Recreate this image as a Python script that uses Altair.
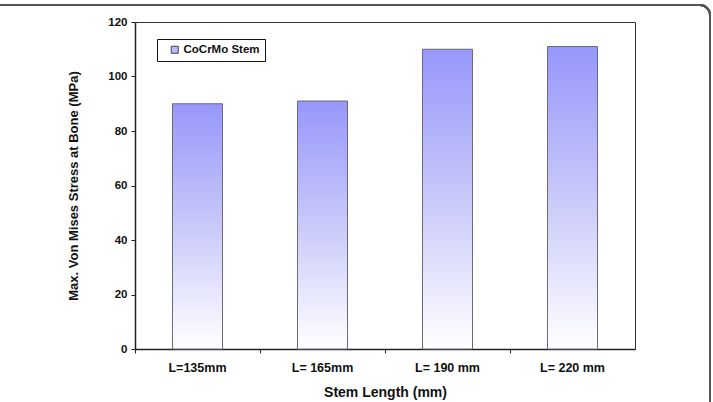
import altair as alt
import pandas as pd

# Stem lengths and the peak von Mises stress found in the bone
stem_lengths = ["L=135mm", "L= 165mm", "L= 190 mm", "L= 220 mm"]
max_stress = [90, 91, 110, 111]
series_name = ["CoCrMo Stem"] * 4

df = pd.DataFrame({"length": stem_lengths, "stress": max_stress, "series": series_name})

BOLD = "Liberation Sans"
NARROW = "Liberation Sans Narrow, Arial Narrow, Liberation Sans"

bar_fill = alt.Gradient(
    gradient="linear",
    stops=[
        alt.GradientStop(color="#9797fb", offset=0),
        alt.GradientStop(color="#c9c9fa", offset=0.5),
        alt.GradientStop(color="#ffffff", offset=1),
    ],
    x1=0, x2=0, y1=0, y2=1,
)

x_enc = alt.X(
    "length:N",
    sort=stem_lengths,
    scale=alt.Scale(paddingInner=0, paddingOuter=0),
    axis=alt.Axis(
        title="Stem Length (mm)",
        labelAngle=0,
        bandPosition=0,
        labelFont=BOLD, labelFontSize=12.5, labelFontWeight="bold", labelColor="#111",
        labelPadding=8,
        titleFont=BOLD, titleFontSize=14, titleFontWeight="bold", titleColor="#111",
        titlePadding=12,
        domainColor="#222", domainWidth=1.5,
        tickColor="#222", tickSize=4,
        grid=False,
    ),
)

y_enc = alt.Y(
    "stress:Q",
    scale=alt.Scale(domain=[0, 120]),
    axis=alt.Axis(
        title="Max. Von Mises Stress at Bone (MPa)",
        values=[0, 20, 40, 60, 80, 100, 120],
        labelFont=NARROW, labelFontSize=11.5, labelFontWeight="bold", labelColor="#111",
        labelPadding=4,
        titleFont=BOLD, titleFontSize=13, titleFontWeight="bold", titleColor="#111",
        titlePadding=27,
        domainColor="#222", domainWidth=1.5,
        tickColor="#222", tickSize=4,
        grid=False,
    ),
)

bars = alt.Chart(df).mark_bar(
    fill=bar_fill,
    stroke="#6a6a7a",
    strokeWidth=1,
    width=alt.RelativeBandSize(0.4),
).encode(x=x_enc, y=y_enc)

# invisible layer that supplies the series legend
legend_layer = alt.Chart(df).mark_square(opacity=0, size=49, filled=True).encode(
    x=alt.X("length:N", sort=stem_lengths),
    y="stress:Q",
    color=alt.Color(
        "series:N",
        scale=alt.Scale(range=["#b9b9fb"]),
        legend=alt.Legend(
            title=None,
            orient="none",
            legendX=22,
            legendY=17,
            symbolType="square",
            symbolSize=49,
            symbolOpacity=1,
            symbolOffset=7,
            symbolStrokeColor="#444",
            symbolStrokeWidth=1,
            labelFont=BOLD, labelFontSize=11.5, labelFontWeight="bold", labelColor="#111",
            labelOffset=3,
            padding=5,
            strokeColor="#111",
            fillColor="white",
        ),
    ),
)

# rounded outer frame around the figure
frame = alt.Chart(df).mark_rect(
    fill=None, stroke="#555", strokeWidth=2, cornerRadius=10,
).encode(
    x=alt.value(-145), x2=alt.value(575), y=alt.value(-17), y2=alt.value(395),
)

chart = alt.layer(frame, bars, legend_layer).properties(
    width=500,
    height=327,
    padding={"left": 135, "top": 22, "right": 78, "bottom": 53},
    autosize=alt.AutoSizeParams(type="none"),
    background="white",
).configure_view(
    stroke="#333", strokeWidth=1,
)

chart.save("out.html", embed_options={"renderer": "svg", "actions": False})
